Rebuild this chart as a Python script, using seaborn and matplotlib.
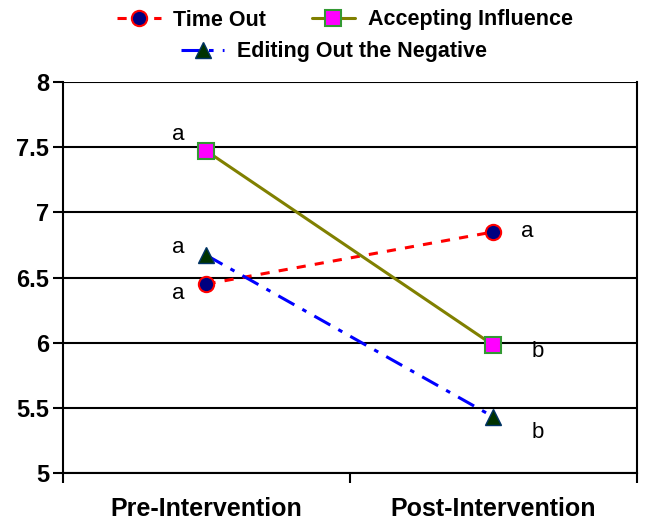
import matplotlib
matplotlib.use("Agg")
import matplotlib.pyplot as plt
import seaborn as sns
import pandas as pd
from matplotlib.lines import Line2D

sns.set_theme(style="white")
plt.rcParams['font.family'] = ['Liberation Sans', 'DejaVu Sans']
plt.rcParams['text.color'] = 'black'

# ---- data ----
phases = ["Pre-Intervention", "Post-Intervention"]
time_out = [6.45, 6.85]
accepting_influence = [7.47, 5.98]
editing_out = [6.67, 5.43]
time_out_letters = ["a", "a"]
accepting_letters = ["a", "b"]
editing_letters = ["a", "b"]
y_ticks = [5, 5.5, 6, 6.5, 7, 7.5, 8]
y_tick_labels = ["5", "5.5", "6", "6.5", "7", "7.5", "8"]

series = [
    ("Time Out", time_out, time_out_letters,
     dict(color="#FF0000", linestyle=(0, (3, 3)), marker="o", mfc="#000080", mec="#FF0000", ms=11, mew=1.5),
     [(-28, -9), (34, 0)]),
    ("Accepting Influence", accepting_influence, accepting_letters,
     dict(color="#808000", linestyle="-", marker="s", mfc="#FF00FF", mec="#339933", ms=11, mew=1.5),
     [(-28, 17), (44, -6)]),
    ("Editing Out the Negative", editing_out, editing_letters,
     dict(color="#0000FF", linestyle=(0, (6, 3, 1.5, 3)), marker="^", mfc="#003300", mec="#003366", ms=12, mew=1),
     [(-28, 8), (44, -16)]),
]

fig = plt.figure(figsize=(6.49, 5.29), dpi=100)
ax = fig.add_axes([63 / 649, 1 - 473 / 529, (637 - 63) / 649, (473 - 82) / 529])

for ytk in y_ticks:
    ax.axhline(ytk, color="black", lw=1.5, zorder=1)

handles = []
for name, vals, letters, st, offs in series:
    df = pd.DataFrame({"phase": phases, "value": vals})
    sns.lineplot(data=df, x="phase", y="value", ax=ax, sort=False,
                 color=st["color"], linestyle=st["linestyle"], lw=2.2,
                 marker=st["marker"], markerfacecolor=st["mfc"], markeredgecolor=st["mec"],
                 markersize=st["ms"], markeredgewidth=st["mew"], zorder=3)
    for i, (v, lt) in enumerate(zip(vals, letters)):
        ax.annotate(lt, (i, v), xytext=offs[i], textcoords="offset pixels",
                    ha="center", va="center", fontsize=16, color="black")
    handles.append(Line2D([], [], color=st["color"], linestyle=st["linestyle"], lw=2.2,
                          marker=st["marker"], markerfacecolor=st["mfc"], markeredgecolor=st["mec"],
                          markersize=st["ms"], markeredgewidth=st["mew"]))

ax.set_xlim(-0.5, 1.5)
ax.set_ylim(5, 8)
ax.set_yticks(y_ticks)
ax.set_yticklabels(y_tick_labels, fontsize=17, fontweight="bold")
ax.set_xticks([0, 1])
ax.set_xticklabels(phases, fontsize=18, fontweight="bold")
ax.set_xticks([-0.5, 0.5, 1.5], minor=True)
ax.tick_params(axis="x", which="major", length=0, pad=17, colors="black")
ax.tick_params(axis="x", which="minor", length=7, width=1.5, direction="out", bottom=True, color="black")
ax.tick_params(axis="y", length=7, width=1.5, direction="out", left=True, pad=3, colors="black")
ax.set_xlabel("")
ax.set_ylabel("")
for s in ["left", "right", "bottom"]:
    ax.spines[s].set_visible(True)
    ax.spines[s].set_color("black")
    ax.spines[s].set_linewidth(1.5)
ax.spines["top"].set_visible(False)
if ax.get_legend():
    ax.get_legend().remove()

legend_kw = dict(frameon=False, handlelength=2.0, handletextpad=0.6,
                 prop={"size": 15.5, "weight": "bold"}, borderaxespad=0, borderpad=0)
leg1 = fig.legend(handles[:2], [s[0] for s in series[:2]], ncol=2, columnspacing=2.1,
                  loc="center", bbox_to_anchor=(345 / 649, 1 - 20 / 529), **legend_kw)
leg2 = fig.legend(handles[2:], [series[2][0]], ncol=1,
                  loc="center", bbox_to_anchor=(334 / 649, 1 - 52 / 529), **legend_kw)

fig.savefig("out.png", dpi=100)
